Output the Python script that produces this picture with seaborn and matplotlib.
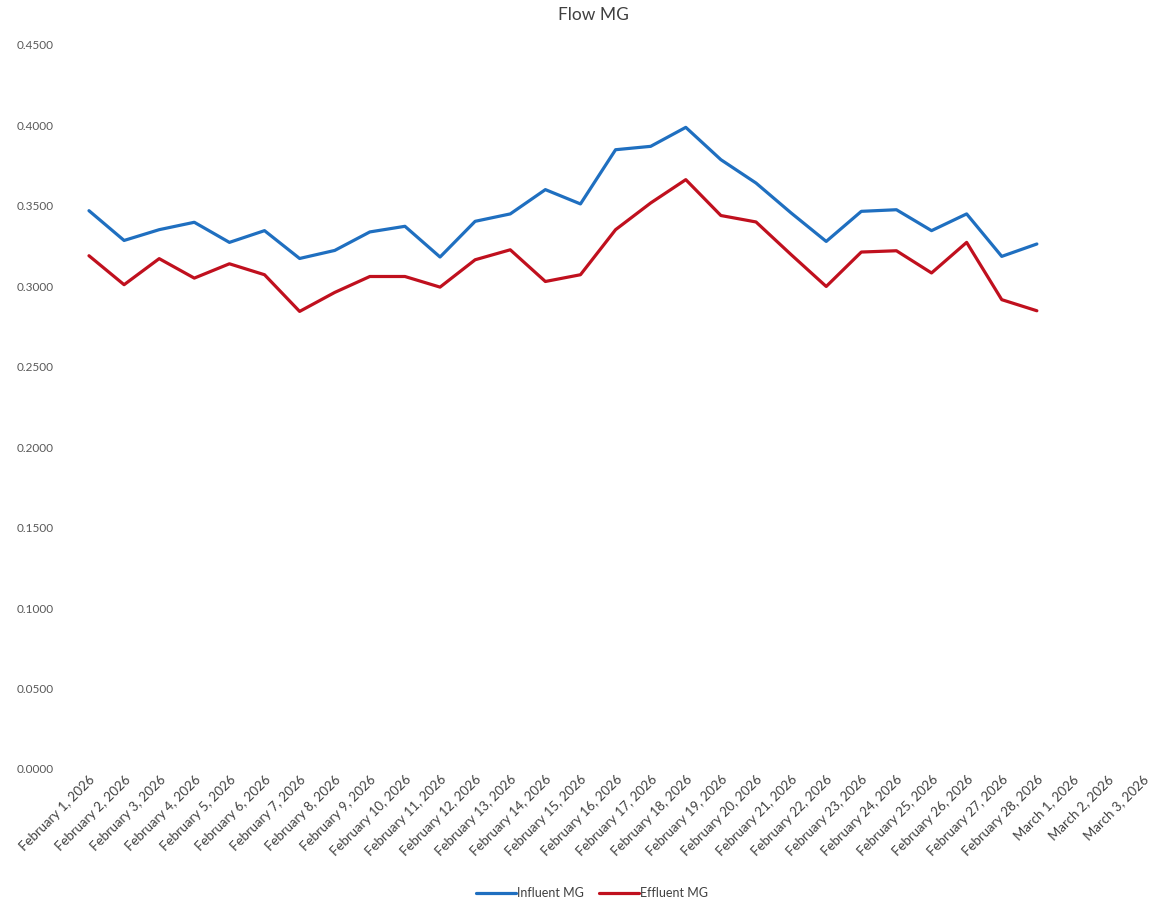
import matplotlib
matplotlib.use("Agg")
import matplotlib.pyplot as plt
import pandas as pd
import seaborn as sns
from matplotlib.ticker import FormatStrFormatter

# Categories on the x axis (31 days, data for the first 28)
dates = ["February %d, 2026" % d for d in range(1, 29)] + \
        ["March 1, 2026", "March 2, 2026", "March 3, 2026"]

influent = [0.3470, 0.3285, 0.3352, 0.3398, 0.3273, 0.3346, 0.3173, 0.3223,
            0.3338, 0.3373, 0.3182, 0.3404, 0.3450, 0.3601, 0.3512, 0.3849,
            0.3870, 0.3988, 0.3787, 0.3642, 0.3456, 0.3279, 0.3466, 0.3476,
            0.3346, 0.3450, 0.3186, 0.3263]
effluent = [0.3190, 0.3010, 0.3172, 0.3051, 0.3140, 0.3072, 0.2844, 0.2962,
            0.3061, 0.3061, 0.2995, 0.3165, 0.3227, 0.3030, 0.3072, 0.3352,
            0.3518, 0.3663, 0.3440, 0.3400, 0.3197, 0.2999, 0.3213, 0.3221,
            0.3083, 0.3273, 0.2917, 0.2848]

series_names = ["Influent MG", "Effluent MG"]
colors = ["#1F6FC0", "#C0101E"]

# Long format for seaborn
rows = []
for name, vals in zip(series_names, [influent, effluent]):
    for i, v in enumerate(vals):
        rows.append({"day": i, "value": v, "series": name})
df = pd.DataFrame(rows)

sns.set_theme(style="white")
plt.rcParams["font.family"] = ["Lato", "DejaVu Sans"]

fig = plt.figure(figsize=(11.52, 9.05), dpi=100)
ax = fig.add_axes([0.062, 0.1503, 0.938, 0.80])

sns.lineplot(data=df, x="day", y="value", hue="series", hue_order=series_names,
             palette=colors, linewidth=2.3, ax=ax, legend=False)

ax.set_xlim(-0.5, 30.28)
ax.set_ylim(0, 0.45)
ax.set_yticks([i * 0.05 for i in range(10)])
ax.yaxis.set_major_formatter(FormatStrFormatter("%.4f"))
ax.set_xticks(range(len(dates)))
ax.set_xticklabels(dates, rotation=45, ha="right", rotation_mode="anchor")
ax.tick_params(axis="y", labelsize=8.5, colors="#595959", length=0, pad=13)
ax.tick_params(axis="x", labelsize=9.5, colors="#404040", length=0, pad=3)
ax.set_xlabel("")
ax.set_ylabel("")
for s in ax.spines.values():
    s.set_visible(False)

fig.text(0.515, 0.983, "Flow MG", ha="center", va="center", fontsize=12.5, color="#404040")

handles = [plt.Line2D([], [], color=c, lw=2.3) for c in colors]
fig.legend(handles, series_names, loc="center", bbox_to_anchor=(0.514, 0.013),
           ncol=2, frameon=False, fontsize=9, handlelength=3.2,
           handletextpad=0.1, columnspacing=1.2, labelcolor="#404040")

fig.savefig("out.png", dpi=100, facecolor="white")
